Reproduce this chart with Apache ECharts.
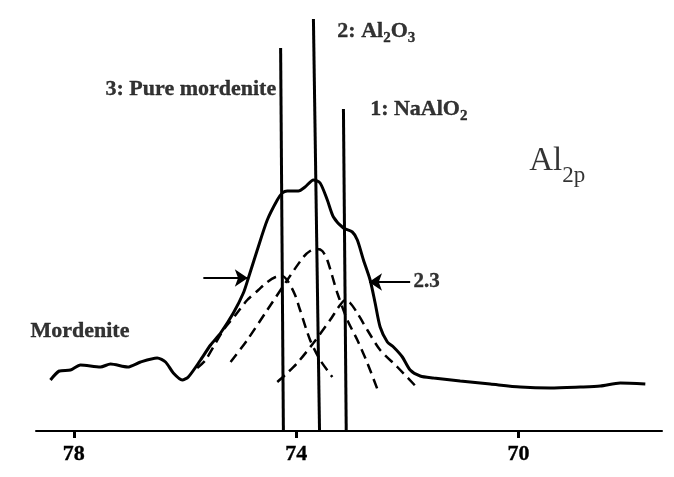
<!DOCTYPE html>
<html><head><meta charset="utf-8">
<script src="https://cdn.jsdelivr.net/npm/echarts@6/dist/echarts.min.js"></script>
<style>html,body{margin:0;padding:0;background:#fff}#c{width:674px;height:477px}</style>
</head><body><div id="c"></div>
<script>
// Binding energy (eV) tick labels
const tickValues = [78, 74, 70];
// Measured Al2p spectrum of mordenite [BE, intensity]
const spectrum = [[78.42,51],[78.26,60],[78.06,61],[77.88,66],[77.52,64],[77.34,67],[77.03,64],[76.80,69],[76.50,73],[76.35,69],[76.21,58],[76.05,51],[75.94,54],[75.72,71],[75.54,86],[75.36,98],[75.13,118],[74.95,138],[74.86,153],[74.70,181],[74.52,211],[74.34,231],[74.25,238],[74.16,240],[73.96,240],[73.84,244],[73.69,251],[73.57,248],[73.44,231],[73.33,214],[73.15,203],[72.99,199],[72.90,191],[72.79,171],[72.67,151],[72.58,128],[72.49,104],[72.36,89],[72.25,84],[72.09,74],[71.95,61],[71.77,55],[71.53,53],[71.05,50],[70.51,47],[69.97,44],[69.43,43],[68.89,44],[68.53,45],[68.17,48],[67.72,47]];
// Deconvoluted components (dashed)
const fitMordenite = [[75.78,63],[75.63,71],[75.31,101],[75.09,116],[74.88,131],[74.68,141],[74.52,149],[74.37,154],[74.25,155],[74.14,149],[74.02,136],[73.93,121],[73.75,91],[73.57,71],[73.35,54]];
const fitAl2O3 = [[75.18,69],[74.88,91],[74.52,121],[74.16,151],[73.87,174],[73.75,180],[73.62,182],[73.53,180],[73.44,171],[73.26,138],[73.08,111],[72.90,91],[72.72,68],[72.52,39]];
const fitNaAlO2 = [[74.34,49],[74.20,56],[73.98,68],[73.69,88],[73.39,111],[73.21,126],[73.12,131],[73.03,128],[72.90,118],[72.72,101],[72.49,81],[72.18,64],[71.82,43]];
// Reference positions (vertical bars)
const refMordenite = [[74.28,383],[74.23,0]];
const refAl2O3 = [[73.69,412],[73.58,0]];
const refNaAlO2 = [[73.15,322],[73.10,0]];
// FWHM arrows [from, to]
const fwhmLeft = [[75.67,153],[74.87,153]];
const fwhmRight = [[71.95,149],[72.69,149]];
// Texts
const labelTexts = ['3: Pure mordenite', '2: Al{s|2}O{s|3}', '1: NaAlO{s|2}', 'Mordenite', '{A|Al}{p|2p}', '2.3'];

const SERIF = '"Liberation Serif", "Times New Roman", serif';
const ink = {color: '#000', textBorderColor: '#000', textBorderWidth: 0.35};
const richBold = {
  b: Object.assign({fontSize: 22, fontWeight: 'bold', fontFamily: SERIF, lineHeight: 24, verticalAlign: 'top'}, ink),
  c: Object.assign({fontSize: 21, fontWeight: 'bold', fontFamily: SERIF, lineHeight: 24, verticalAlign: 'top'}, ink),
  s: Object.assign({fontSize: 15, fontWeight: 'bold', fontFamily: SERIF, lineHeight: 15, verticalAlign: 'top', padding: [11,0,0,0]}, ink),
  A: {fontSize: 33, fontFamily: SERIF, color: '#000', lineHeight: 36, verticalAlign: 'top'},
  p: {fontSize: 23, fontFamily: SERIF, color: '#000', lineHeight: 23, verticalAlign: 'top', padding: [19,0,0,0]}
};
function wrapBold(t, cls){ return t.startsWith('{A|') ? t : t.split(/(\{s\|[^}]*\})/).map(p => p.startsWith('{s|') ? p : (p ? '{' + cls + '|' + p + '}' : '')).join(''); }

const labelAnchors = [
  {value:[74.36,341], pos:'left', cls:'b'},
  {value:[73.26,399], pos:'right', cls:'b'},
  {value:[72.67,321], pos:'right', cls:'b'},
  {value:[78.78,99],  pos:'right', cls:'b'},
  {value:[69.81,268], pos:'right', cls:'b'},
  {value:[71.89,148], pos:'right', cls:'c'}
];

function lineSeries(data, opts){
  return Object.assign({type:'line', data, symbol:'none', smooth:0.25, silent:true,
    lineStyle:{color:'#000', width:3}}, opts||{});
}

const chart = echarts.init(document.getElementById('c'));
chart.setOption({
  animation:false,
  backgroundColor:'#fff',
  grid:{left:36, right:12, top:10, bottom:46},
  xAxis:{type:'value', inverse:true, min:67.42, max:78.68,
    axisLine:{lineStyle:{color:'#000', width:2}},
    axisTick:{customValues:tickValues, length:7, lineStyle:{color:'#000', width:3}},
    axisLabel:{customValues:tickValues, color:'#000', fontSize:22, fontWeight:'bold', fontFamily:SERIF, margin:12,
      textBorderColor:'#000', textBorderWidth:0.35},
    splitLine:{show:false}},
  yAxis:{type:'value', min:0, max:421, show:false},
  series:[
    lineSeries(spectrum, {markLine:{silent:true, symbol:['none','arrow'], symbolSize:13,
      label:{show:false}, lineStyle:{color:'#000', width:2, type:'solid'},
      data:[[{coord:fwhmLeft[0]},{coord:fwhmLeft[1]}],[{coord:fwhmRight[0]},{coord:fwhmRight[1]}]]}}),
    lineSeries(fitMordenite, {lineStyle:{color:'#000', width:2.5, type:[10,6]}}),
    lineSeries(fitAl2O3, {lineStyle:{color:'#000', width:2.5, type:[10,6]}}),
    lineSeries(fitNaAlO2, {lineStyle:{color:'#000', width:2.5, type:[10,6]}}),
    lineSeries(refMordenite, {smooth:false}),
    lineSeries(refAl2O3, {smooth:false}),
    lineSeries(refNaAlO2, {smooth:false}),
    {type:'scatter', symbolSize:0, silent:true, clip:false,
      data: labelAnchors.map((a,i)=>({value:a.value,
        label:{show:true, position:a.pos, distance:0, color:'#000', formatter:wrapBold(labelTexts[i], a.cls), rich:richBold}}))}
  ]
});
</script></body></html>
